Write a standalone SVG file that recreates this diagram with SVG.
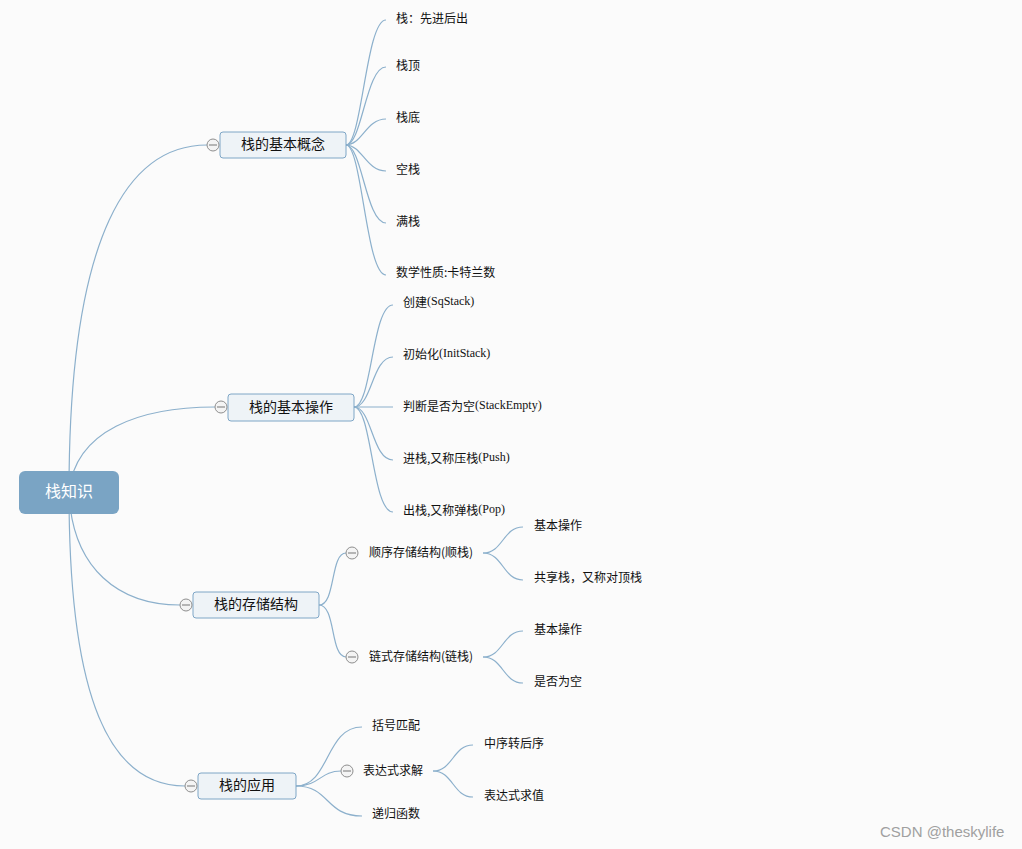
<svg xmlns="http://www.w3.org/2000/svg" width="1022" height="849" viewBox="0 0 1022 849">
<style>
.bg{fill:#fbfbfb}
.c{fill:none;stroke:#8cb0cc;stroke-width:1.2}
.n1{fill:#eef3f7;stroke:#7ea6c6;stroke-width:1}
.t1{font-family:"Noto Sans CJK SC","Liberation Sans",sans-serif;font-size:14px;fill:#111;text-anchor:middle;dominant-baseline:central}
.t2{font-family:"Noto Sans CJK SC","Liberation Sans",sans-serif;font-size:12px;fill:#111;dominant-baseline:central}
.lat{font-family:"Liberation Serif",serif}
.col circle{fill:#f4f4f4;stroke:#8e8e8e;stroke-width:1}
.col line{stroke:#777;stroke-width:1}
</style>
<rect class="bg" x="0" y="0" width="1022" height="849"/>
<g id="connectors">
<path class="c" d="M69,492 C69,230 130,145 207,145"/>
<path class="c" d="M69,492 C75,430 140,407 215,407"/>
<path class="c" d="M69,492 C72,570 120,605 180,605"/>
<path class="c" d="M69,492 C69,700 110,786 185,786"/>
<path class="c" d="M346,145 C362,145 366,20 386,20"/>
<path class="c" d="M346,145 C362,145 366,67 386,67"/>
<path class="c" d="M346,145 C362,145 366,119 386,119"/>
<path class="c" d="M346,145 C362,145 366,171 386,171"/>
<path class="c" d="M346,145 C362,145 366,223 386,223"/>
<path class="c" d="M346,145 C362,145 366,275 386,275"/>
<path class="c" d="M354,407 C372,407 372,305 393,305"/>
<path class="c" d="M354,407 C372,407 372,357 393,357"/>
<path class="c" d="M354,407 L393,407"/>
<path class="c" d="M354,407 C372,407 372,460 393,460"/>
<path class="c" d="M354,407 C372,407 372,512 393,512"/>
<path class="c" d="M319,605 C336,605 330,553 346,553"/>
<path class="c" d="M319,605 C336,605 330,657 346,657"/>
<path class="c" d="M483,553 C503,553 503,527 523,527"/>
<path class="c" d="M483,553 C503,553 503,580 523,580"/>
<path class="c" d="M483,657 C503,657 503,631 523,631"/>
<path class="c" d="M483,657 C503,657 503,683 523,683"/>
<path class="c" d="M296,786 C330,786 325,727 362,727"/>
<path class="c" d="M296,786 C320,786 320,771 341,771"/>
<path class="c" d="M296,786 C330,786 325,816 362,816"/>
<path class="c" d="M433,771 C453,771 453,745 473,745"/>
<path class="c" d="M433,771 C453,771 453,797 473,797"/>
</g>
<g id="root">
<rect x="19" y="471" width="100" height="43" rx="6" fill="#7aa4c4"/>
<text x="69" y="490" font-family="Noto Sans CJK SC, sans-serif" font-size="16" fill="#fff" text-anchor="middle" dominant-baseline="central">栈知识</text>
</g>
<g id="n-concept">
<rect class="n1" x="220" y="132" width="126" height="26" rx="3"/>
<text class="t1" x="283" y="143">栈的基本概念</text>
<g class="col"><circle cx="213" cy="145" r="6"/><line x1="209" y1="145" x2="217" y2="145"/></g>
</g>
<g id="n-ops">
<rect class="n1" x="228" y="394" width="126" height="27" rx="3"/>
<text class="t1" x="291" y="406">栈的基本操作</text>
<g class="col"><circle cx="221" cy="407" r="6"/><line x1="217" y1="407" x2="225" y2="407"/></g>
</g>
<g id="n-storage">
<rect class="n1" x="193" y="592" width="126" height="26" rx="3"/>
<text class="t1" x="256" y="603">栈的存储结构</text>
<g class="col"><circle cx="186" cy="605" r="6"/><line x1="182" y1="605" x2="190" y2="605"/></g>
</g>
<g id="n-app">
<rect class="n1" x="198" y="773" width="98" height="26" rx="3"/>
<text class="t1" x="247" y="784">栈的应用</text>
<g class="col"><circle cx="191" cy="786" r="6"/><line x1="187" y1="786" x2="195" y2="786"/></g>
</g>
<g id="c1"><text class="t2" x="396" y="17">栈：先进后出</text></g>
<g id="c2"><text class="t2" x="396" y="64">栈顶</text></g>
<g id="c3"><text class="t2" x="396" y="116">栈底</text></g>
<g id="c4"><text class="t2" x="396" y="168">空栈</text></g>
<g id="c5"><text class="t2" x="396" y="220">满栈</text></g>
<g id="c6"><text class="t2" x="396" y="271">数学性质:卡特兰数</text></g>
<g id="o1"><text class="t2" x="403" y="301">创建<tspan class="lat">(SqStack)</tspan></text></g>
<g id="o2"><text class="t2" x="403" y="353">初始化<tspan class="lat">(InitStack)</tspan></text></g>
<g id="o3"><text class="t2" x="403" y="405">判断是否为空<tspan class="lat">(StackEmpty)</tspan></text></g>
<g id="o4"><text class="t2" x="403" y="457">进栈,又称压栈<tspan class="lat">(Push)</tspan></text></g>
<g id="o5"><text class="t2" x="403" y="509">出栈,又称弹栈<tspan class="lat">(Pop)</tspan></text></g>
<g id="s1">
<g class="col"><circle cx="352" cy="553" r="6"/><line x1="348" y1="553" x2="356" y2="553"/></g>
<text class="t2" x="369" y="551">顺序存储结构(顺栈)</text>
</g>
<g id="s2">
<g class="col"><circle cx="352" cy="657" r="6"/><line x1="348" y1="657" x2="356" y2="657"/></g>
<text class="t2" x="369" y="655">链式存储结构(链栈)</text>
</g>
<g id="s11"><text class="t2" x="534" y="524">基本操作</text></g>
<g id="s12"><text class="t2" x="534" y="576">共享栈，又称对顶栈</text></g>
<g id="s21"><text class="t2" x="534" y="628">基本操作</text></g>
<g id="s22"><text class="t2" x="534" y="680">是否为空</text></g>
<g id="a1"><text class="t2" x="372" y="724">括号匹配</text></g>
<g id="a2">
<g class="col"><circle cx="347" cy="771" r="6"/><line x1="343" y1="771" x2="351" y2="771"/></g>
<text class="t2" x="363" y="769">表达式求解</text>
</g>
<g id="a3"><text class="t2" x="372" y="812">递归函数</text></g>
<g id="a21"><text class="t2" x="484" y="742">中序转后序</text></g>
<g id="a22"><text class="t2" x="484" y="794">表达式求值</text></g>
<text x="880" y="831" font-family="Liberation Sans, sans-serif" font-size="15" fill="#a0a0a0" dominant-baseline="central">CSDN @theskylife</text>
</svg>
